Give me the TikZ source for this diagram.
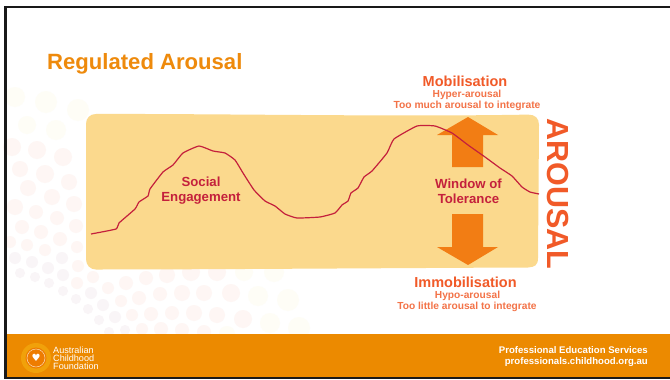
\documentclass[tikz,border=0pt]{standalone}
\usepackage{fontspec}
\setmainfont{Liberation Sans}
\definecolor{ttl}{HTML}{EE8A0C}
\definecolor{band}{HTML}{EC8A00}
\definecolor{panel}{HTML}{FBD98D}
\definecolor{arrowc}{HTML}{F27D14}
\definecolor{redc}{HTML}{C4203C}
\definecolor{orred}{HTML}{F15A28}
\definecolor{dy}{HTML}{FEFDF6}
\definecolor{dp}{HTML}{FEF6F4}
\definecolor{dl}{HTML}{F9F5F7}
\tikzset{
 lab/.style={inner sep=0,align=center,font=\bfseries\fontsize{13.2}{14.7}\selectfont,text=redc},
 head/.style={inner sep=0,font=\bfseries\fontsize{14.5}{16}\selectfont,text=orred},
 sub/.style={inner sep=0,font=\bfseries\fontsize{10.2}{12}\selectfont,text=orred!85!white},
 foot/.style={inner sep=0,align=right,font=\bfseries\fontsize{9.6}{11}\selectfont,text=white},
 big/.style={line width=0pt,fill=arrowc},
}
\begin{document}
\begin{tikzpicture}[x=1pt,y=-1pt]
\useasboundingbox (0,0) rectangle (670,380);
\fill[white] (0,0) rectangle (670,380);
% dots
\foreach \x/\y/\r in {15/97/10,46/102/11,78/110/11,27/125/9,56/130/10}{\fill[dy] (\x,\y) circle[radius=\r];}
\foreach \x/\y/\r in {12/147/9,37/150/9,63/157/9,20/169/8,45/174/9,69/182/8,28/188/8,15/207/8,52/197/8,74/204/8,36/212/7,57/218/7,22/227/7,41/232/7,76/226/7,60/239/7,10/242/6,27/245/6,45/250/6,77/247/6}{\fill[dp] (\x,\y) circle[radius=\r];}
\foreach \x/\y/\r in {15/258/6,32/262/6,62/258/6,48/268/6,20/273/5,35/277/5,63/275/6,49/283/5,63/291/5,91/293/6,76/299/5,103/305/6,88/309/5,115/317/6,99/320/5,109/332/5,125/330/5}{\fill[dl] (\x,\y) circle[radius=\r];}
\foreach \x/\y/\r in {78/266/6,77/283/6,93/277/6,108/288/6,126/283/7,146/278/7,167/275/8,191/272/9,217/272/9,121/301/6,139/298/7,160/294/7,182/293/8,204/293/8,231/293/9,132/315/6,151/314/7,172/313/7,194/313/8,217/315/8,243/319/9,142/329/6,161/329/7,182/330/7,204/332/7}{\fill[dp] (\x,\y) circle[radius=\r];}
\foreach \x/\y/\r in {244/272/9,274/272/10,258/296/10,288/300/11,270/323/10,299/328/11,227/334/8}{\fill[dy] (\x,\y) circle[radius=\r];}
% panel
\fill[panel] (96,114) .. controls (200,113.5) and (400,117) .. (528,114.6)
  .. controls (535,114.6) and (539,118) .. (539,125)
  -- (538,258) .. controls (538,265) and (535,267) .. (528,267.5)
  .. controls (400,268) and (200,269.5) .. (96,269.5)
  .. controls (90,269.5) and (86,265) .. (86,259) -- (86,124)
  .. controls (86,118) and (90,114) .. (96,114) -- cycle;
% arrows
\fill[big] (468,117) -- (498,135) -- (483,135) -- (483,167) -- (452,167) -- (452,135) -- (437,135) -- cycle;
\fill[big] (468,265) -- (498,247) -- (483,247) -- (483,214) -- (452,214) -- (452,247) -- (437,247) -- cycle;
% curve
\draw[redc,line width=1.2pt,line join=round] plot[smooth,tension=0.25] coordinates {(91,234) (116,229) (119,223) (135,209) (139,202) (148,196) (150,189) (163,172) (173,165) (183,153) (199,146) (213,151) (225,153) (235,160) (243,173) (254,190) (265,201) (275,206) (285,214) (297,218) (320,217) (335,213) (342,205) (348,201) (351,193) (358,188) (364,177) (372,171) (387,153) (394,139) (417,126) (435,126) (452,133) (468,145) (485,157) (500,168) (512,176) (522,187) (530,192) (539,194)};
% text
\node[anchor=base west,inner sep=0,text=ttl,font=\bfseries\fontsize{22.1}{24}\selectfont] (title) at (47,69) {Regulated Arousal};
\node[lab] (social) at (201,190.500) {Social\\Engagement};
\node[lab] (window) at (468.500,191) {Window of\\Tolerance};
\node[head] (mob) at (465,81) {Mobilisation};
\node[sub] (hyper) at (467,95) {Hyper-arousal};
\node[sub,font=\bfseries\fontsize{10.3}{12}\selectfont] (much) at (467,106) {Too much arousal to integrate};
\node[head] (immob) at (465.500,282) {Immobilisation};
\node[sub] (hypo) at (467.500,296) {Hypo-arousal};
\node[sub,font=\bfseries\fontsize{10.2}{12}\selectfont] (little) at (467,307) {Too little arousal to integrate};
\node[inner sep=0,rotate=-90,text=orred,font=\bfseries\fontsize{30.5}{34}\selectfont] (ar) at (558,194) {AROUSAL};
% footer
\fill[band] (6,334) rectangle (670,377);
\node[foot,anchor=east] (pes) at (648,356.500) {Professional Education Services\\professionals.childhood.org.au};
\fill[ttl!80!yellow] (36,358) circle[radius=15];
\fill[band!90!red] (36,358) circle[radius=10.500];
\draw[white!70!band,line width=.5pt] (36,358) circle[radius=9];
\node[inner sep=0,text=white,font=\fontsize{10}{10}\selectfont] (heart) at (36,358) {\fontspec{DejaVu Sans}♥};
\node[anchor=west,inner sep=0,align=left,text=white,font=\fontsize{9.1}{8}\selectfont] (acf) at (53,358) {Australian\\Childhood\\Foundation};
% frame
\fill[black!90] (4,6) rectangle (670,8);
\fill[black!90] (4,6) rectangle (7,378);
\fill[black!90] (4,377) rectangle (670,379);
\end{tikzpicture}
\end{document}
